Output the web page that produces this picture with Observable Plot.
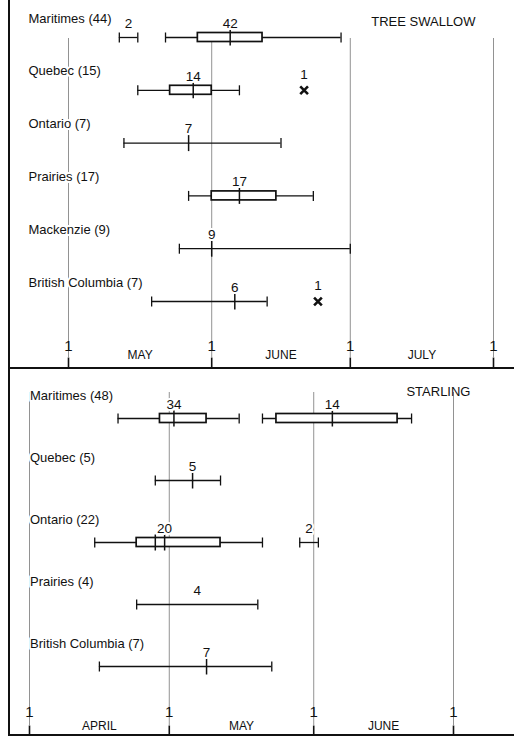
<!DOCTYPE html>
<html>
<head>
<meta charset="utf-8">
<script src="https://cdn.jsdelivr.net/npm/d3@7"></script>
<script src="https://cdn.jsdelivr.net/npm/@observablehq/plot@0.6"></script>
<style>
  body { margin: 0; background: #fff; }
  #chart { position: relative; width: 529px; height: 736px; overflow: hidden; background: #fff; }
  .panel { position: absolute; left: 0; }
  .rule { position: absolute; background: #111; }
</style>
</head>
<body>
<div id="chart"></div>
<script>
// ---------------- TREE SWALLOW ----------------
const swallowRegions = ["Maritimes (44)", "Quebec (15)", "Ontario (7)", "Prairies (17)", "Mackenzie (9)", "British Columbia (7)"];
const swallowGroupRow = [0, 0, 1, 2, 3, 4, 5];
const swallowGroupN   = [2, 42, 14, 7, 17, 9, 6];
const swallowMin    = ["05-12", "05-22", "05-16", "05-13", "05-27", "05-25", "05-19"];
const swallowQ1     = [null, "05-29", "05-23", null, "06-01", null, null];
const swallowMedian = [null, "06-05", "05-28", "05-27", "06-07", "06-01", "06-06"];
const swallowMean   = [null, null, null, null, null, null, null];
const swallowQ3     = [null, "06-12", "06-01", null, "06-15", null, null];
const swallowMax    = ["05-16", "06-29", "06-07", "06-16", "06-23", "07-01", "06-13"];
const swallowSingleRow  = [1, 5];
const swallowSingleN    = [1, 1];
const swallowSingleDate = ["06-21", "06-24"];
const swallowMonthStarts = ["05-01", "06-01", "07-01", "08-01"];
const swallowMonthNames  = ["MAY", "JUNE", "JULY"];

// ---------------- STARLING ----------------
const starlingRegions = ["Maritimes (48)", "Quebec (5)", "Ontario (22)", "Prairies (4)", "British Columbia (7)"];
const starlingGroupRow = [0, 0, 1, 2, 2, 3, 4];
const starlingGroupN   = [34, 14, 5, 20, 2, 4, 7];
const starlingMin    = ["04-20", "05-21", "04-28", "04-15", "05-29", "04-24", "04-16"];
const starlingQ1     = ["04-29", "05-24", null, "04-24", null, null, null];
const starlingMedian = ["05-02", "06-05", "05-06", "04-28", null, null, "05-09"];
const starlingMean   = [null, null, null, "04-30", null, null, null];
const starlingQ3     = ["05-09", "06-19", null, "05-12", null, null, null];
const starlingMax    = ["05-16", "06-22", "05-12", "05-21", "06-02", "05-20", "05-23"];
const starlingSingleRow  = [];
const starlingSingleN    = [];
const starlingSingleDate = [];
const starlingMonthStarts = ["04-01", "05-01", "06-01", "07-01"];
const starlingMonthNames  = ["APRIL", "MAY", "JUNE"];

// ---------------- helpers ----------------
const parse = (s) => s == null ? null : new Date(Date.UTC(2000, +s.slice(0, 2) - 1, +s.slice(3, 5)));
const mid = (a, b) => new Date((a.getTime() + b.getTime()) / 2);
const vbar = {draw(context, size) { const h = Math.sqrt(size / Math.PI); context.moveTo(0, -h); context.lineTo(0, h); }};
const FONT = "'Liberation Sans', Arial, Helvetica, sans-serif";

function buildGroups(rows, ns, mins, q1s, meds, means, q3s, maxs) {
  return rows.map((row, i) => {
    const g = {row, n: ns[i], min: parse(mins[i]), q1: parse(q1s[i]), median: parse(meds[i]),
               mean: parse(means[i]), q3: parse(q3s[i]), max: parse(maxs[i])};
    g.labelAt = g.mean ?? g.median ?? mid(g.min, g.max);
    return g;
  });
}

function panel(cfg) {
  const groups = buildGroups(cfg.rows, cfg.ns, cfg.mins, cfg.q1s, cfg.meds, cfg.means, cfg.q3s, cfg.maxs);
  const singles = cfg.singleRow.map((row, i) => ({row, n: cfg.singleN[i], date: parse(cfg.singleDate[i])}));
  const months = cfg.monthStarts.map(parse);
  const monthMids = cfg.monthNames.map((name, i) => ({name, at: mid(months[i], months[i + 1])}));
  const boxes = groups.filter((g) => g.q1 && g.q3);
  const caps = groups.flatMap((g) => [{row: g.row, x: g.min}, {row: g.row, x: g.max}]);
  const centers = groups.flatMap((g) => [g.median, g.mean].filter(Boolean).map((x) => ({row: g.row, x})));
  const ink = "#111";
  const halo = {stroke: "white", strokeWidth: 4, paintOrder: "stroke"};

  return Plot.plot({
    width: 529,
    height: 368,
    marginLeft: cfg.marginLeft,
    marginRight: cfg.marginRight,
    marginTop: cfg.marginTop,
    marginBottom: cfg.marginBottom,
    style: {fontFamily: FONT, fontSize: "13px", color: ink, background: "transparent"},
    x: {type: "utc", domain: [months[0], months[months.length - 1]], axis: null},
    y: {type: "linear", domain: [0, cfg.regions.length - 1], range: cfg.yRange, axis: null},
    marks: [
      Plot.ruleX(months, {x: (d) => d, stroke: "#929292", strokeWidth: 1}),
      Plot.ruleY(groups, {y: "row", x1: "min", x2: "max", stroke: ink, strokeWidth: 1.3}),
      Plot.rect(boxes, {x1: "q1", x2: "q3", y1: "row", y2: "row", insetTop: -4.5, insetBottom: -4.5,
                        fill: "white", stroke: ink, strokeWidth: 1.7}),
      Plot.dot(caps, {x: "x", y: "row", symbol: vbar, r: 5, fill: "none", stroke: ink, strokeWidth: 1.3}),
      Plot.dot(centers, {x: "x", y: "row", symbol: vbar, r: 8, fill: "none", stroke: ink, strokeWidth: 1.5}),
      Plot.dot(singles, {x: "date", y: "row", symbol: "times", r: 3.6, stroke: ink, strokeWidth: 2.6}),
      Plot.text(groups, {x: "labelAt", y: "row", text: "n", dy: -14, fontSize: 13.5, fill: ink, ...halo}),
      Plot.text(singles, {x: "date", y: "row", text: "n", dy: -16, fontSize: 13.5, fill: ink, ...halo}),
      Plot.text(cfg.regions, {y: (d, i) => i, text: (d) => d, frameAnchor: "left", textAnchor: "start",
                              dx: cfg.labelDx, dy: cfg.labelDy, fontSize: 13, fill: ink, ...halo}),
      Plot.text([cfg.title], {text: (d) => d, frameAnchor: "top-right", textAnchor: "end",
                              dx: cfg.titleDx, dy: cfg.titleDy, fontSize: 13, fill: ink}),
      Plot.text(months, {x: (d) => d, text: (d) => String(d.getUTCDate()), frameAnchor: "bottom",
                         dy: cfg.tickLabelDy, fontSize: 15, fill: ink}),
      Plot.text(monthMids, {x: "at", text: "name", frameAnchor: "bottom", dy: cfg.monthDy, fontSize: 12, fill: ink}),
      Plot.dot(months, {x: (d) => d, frameAnchor: "bottom", symbol: vbar, r: 5, dy: 5,
                        fill: "none", stroke: ink, strokeWidth: 1.6})
    ]
  });
}

const chart = document.getElementById("chart");
function place(svg, top) {
  const div = document.createElement("div");
  div.className = "panel";
  div.style.top = top + "px";
  div.appendChild(svg);
  chart.appendChild(div);
}

place(panel({
  regions: swallowRegions, rows: swallowGroupRow, ns: swallowGroupN, mins: swallowMin, q1s: swallowQ1,
  meds: swallowMedian, means: swallowMean, q3s: swallowQ3, maxs: swallowMax,
  singleRow: swallowSingleRow, singleN: swallowSingleN, singleDate: swallowSingleDate,
  monthStarts: swallowMonthStarts, monthNames: swallowMonthNames, title: "TREE SWALLOW",
  marginLeft: 68, marginRight: 36, marginTop: 38, marginBottom: 11, yRange: [37, 301],
  labelDx: -40, labelDy: -19, titleDx: -18, titleDy: -21.5, tickLabelDy: -7, monthDy: 1
}), 0);

place(panel({
  regions: starlingRegions, rows: starlingGroupRow, ns: starlingGroupN, mins: starlingMin, q1s: starlingQ1,
  meds: starlingMedian, means: starlingMean, q3s: starlingQ3, maxs: starlingMax,
  singleRow: starlingSingleRow, singleN: starlingSingleN, singleDate: starlingSingleDate,
  monthStarts: starlingMonthStarts, monthNames: starlingMonthNames, title: "STARLING",
  marginLeft: 29, marginRight: 76, marginTop: 24, marginBottom: 11, yRange: [50, 298],
  labelDx: 0.5, labelDy: -23, titleDx: 17, titleDy: -5.5, tickLabelDy: -8.5, monthDy: 4
}), 368);

// frame rules of the original figure
function rule(left, top, width, height) {
  const d = document.createElement("div");
  d.className = "rule";
  Object.assign(d.style, {left: left + "px", top: top + "px", width: width + "px", height: height + "px"});
  chart.appendChild(d);
}
rule(8, 0, 2, 736);
rule(8, 366.5, 506, 2);
rule(8, 734, 506, 2);
</script>
</body>
</html>
